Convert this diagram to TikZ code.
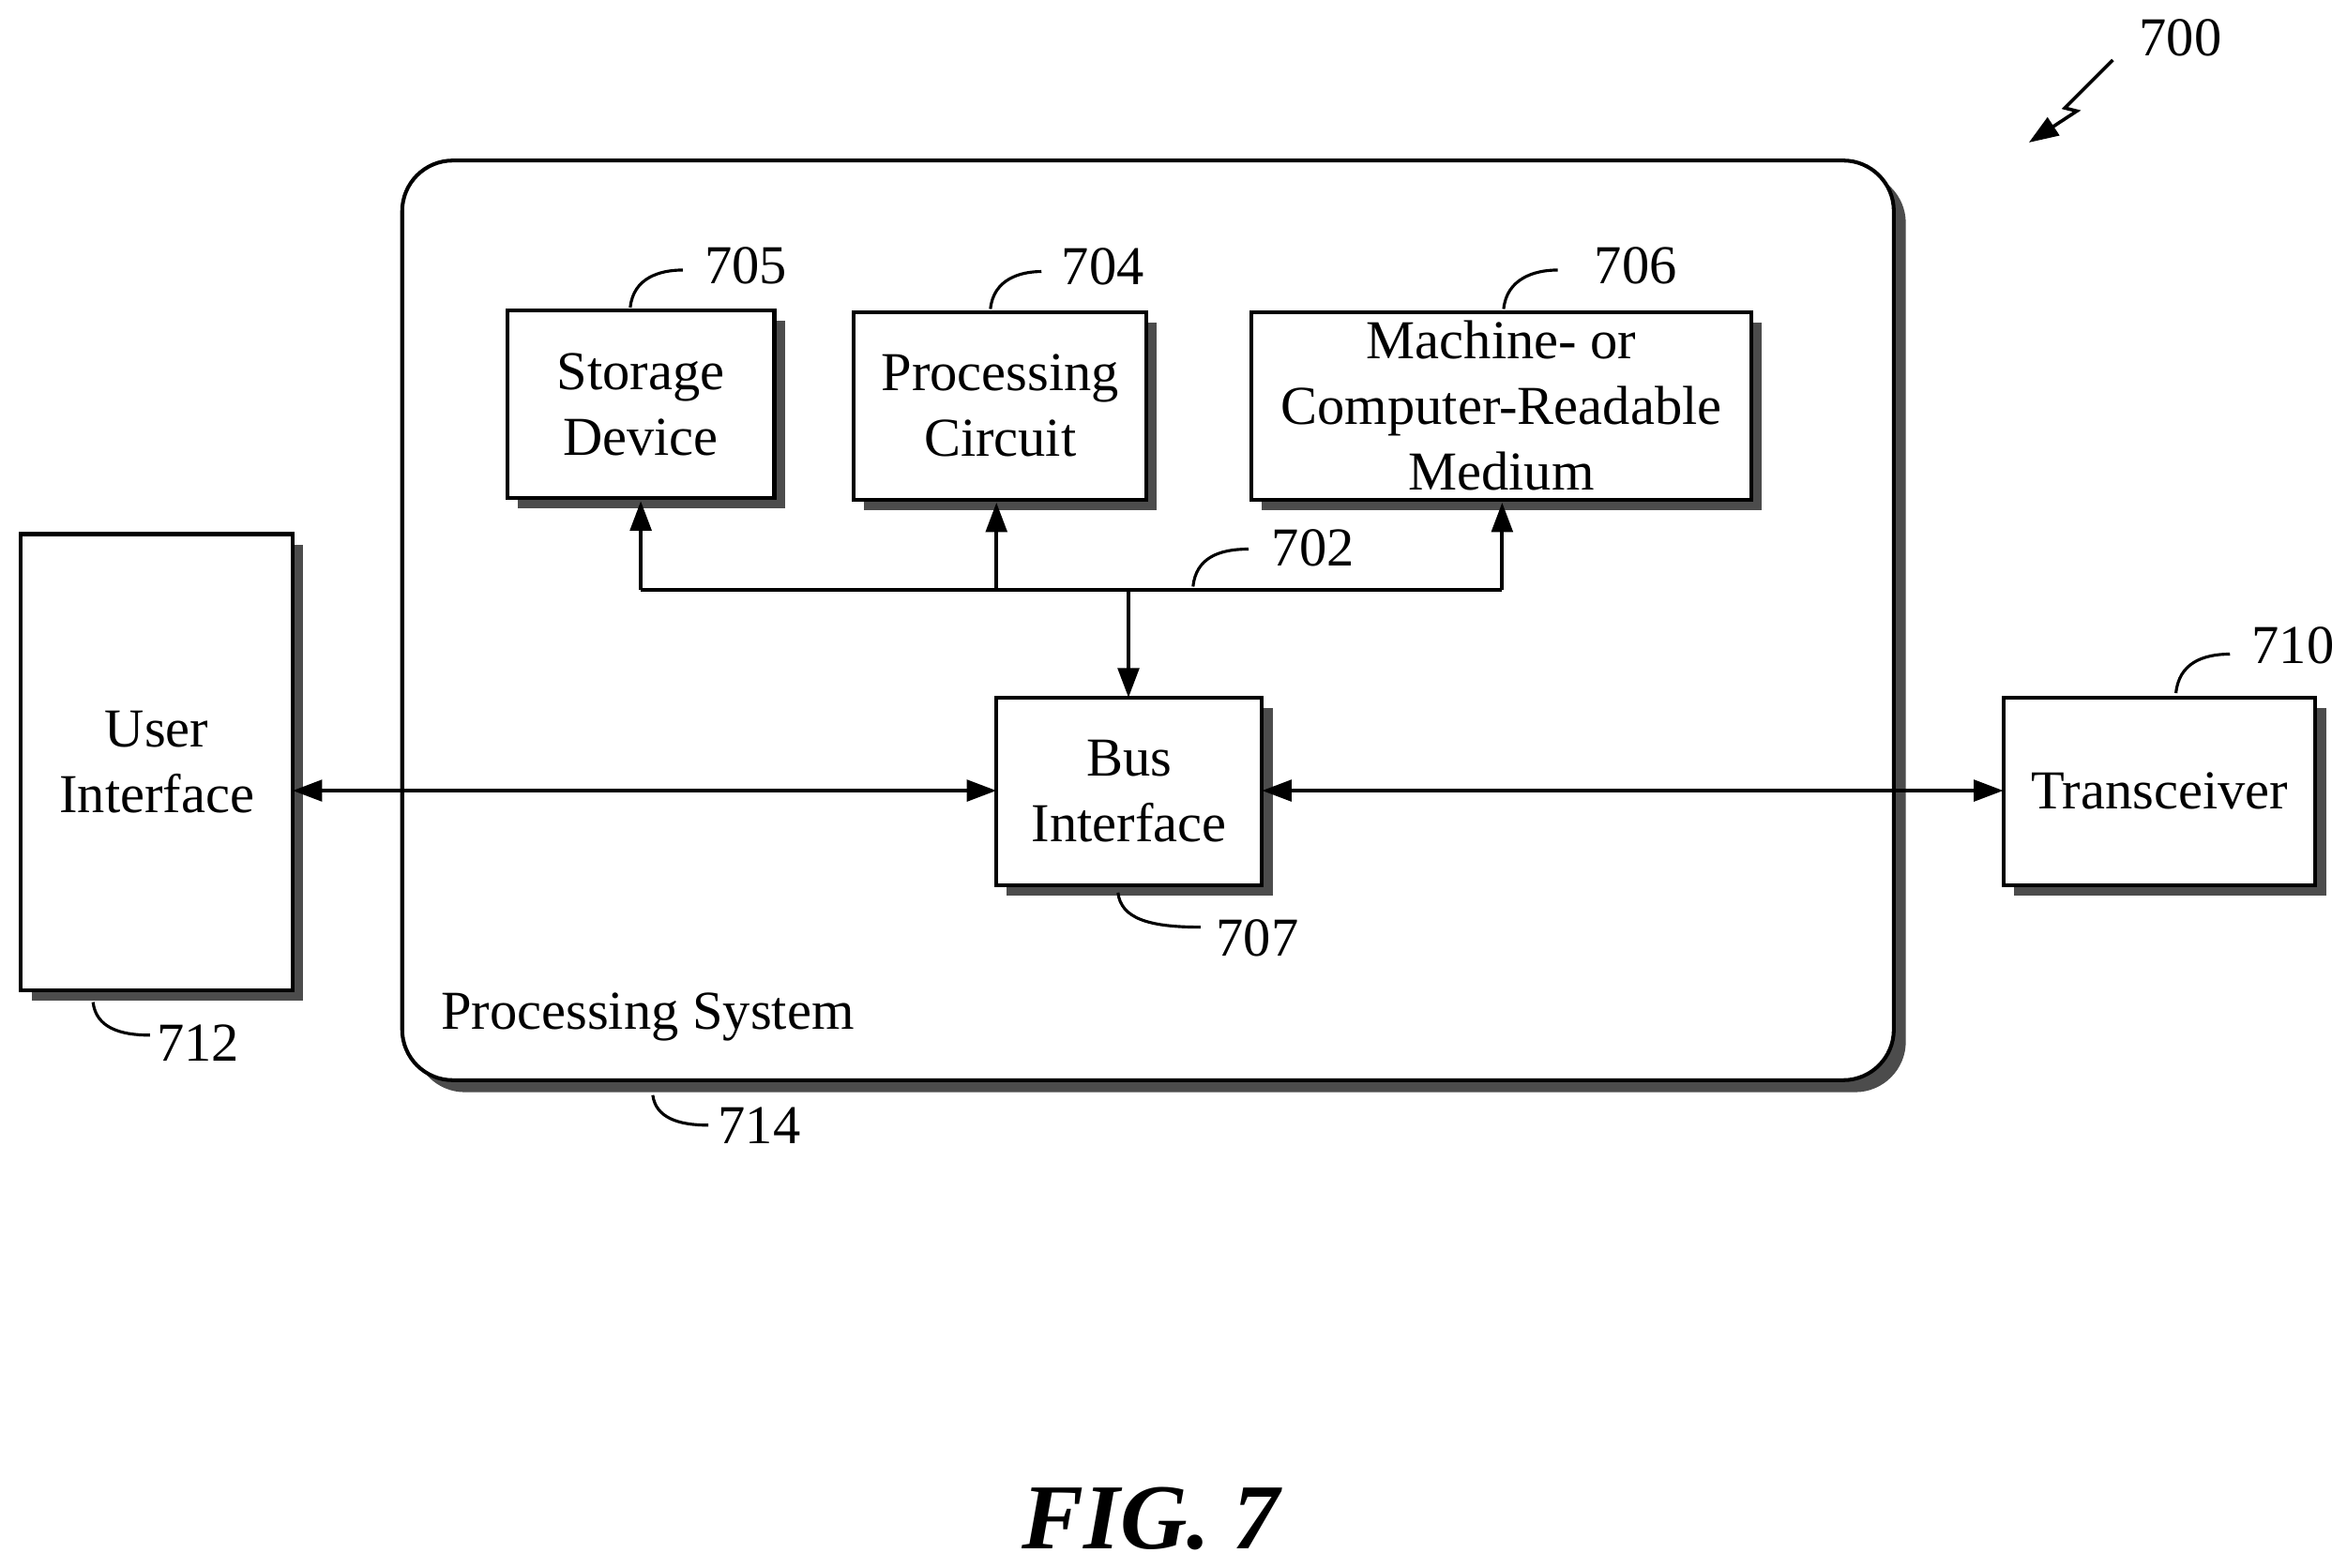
\documentclass[tikz,border=0pt]{standalone}
\usepackage{fontspec}
\setmainfont{Liberation Serif}
\usetikzlibrary{arrows.meta}
\begin{document}
\begin{tikzpicture}[x=0.0125cm,y=-0.0125cm,
  box/.style={align=center,font=\fontsize{13}{15.5}\selectfont},
  lbl/.style={font=\fontsize{13}{15.5}\selectfont},
  arr/.style={line width=0.9pt,-{Triangle[length=7pt,width=5pt]}},
  darr/.style={line width=0.9pt,{Triangle[length=7pt,width=5pt]}-{Triangle[length=7pt,width=5pt]}},
  hook/.style={line width=0.7pt}]
\useasboundingbox (0,0) rectangle (1564,1045);
% processing system
\fill[black!70,rounded corners=12] (276,115) rectangle (1270,728);
\draw[line width=0.9pt,fill=white,rounded corners=12] (268,107) rectangle (1262,720);
\node[lbl,anchor=west] (ps) at (284,678) {Processing System};
% shadowed boxes
\newcommand{\shbox}[4]{\fill[black!70] (#1+7,#2+7) rectangle (#3+7,#4+7);
  \draw[line width=0.9pt,fill=white] (#1,#2) rectangle (#3,#4);}
\shbox{338}{207}{516}{332}
\shbox{569}{208}{764}{333}
\shbox{834}{208}{1167}{333}
\shbox{664}{465}{841}{590}
\shbox{14}{356}{195}{660}
\shbox{1335}{465}{1543}{590}
\node[box] (sd) at (427,269.5) {Storage\\Device};
\node[box] (pc) at (666.5,270.5) {Processing\\Circuit};
\node[box] (mc) at (1000.5,270.5) {Machine- or\\Computer-Readable\\Medium};
\node[box] (bi) at (752.5,527.5) {Bus\\Interface};
\node[box] (ui) at (104.5,508) {User\\Interface};
\node[box] (tr) at (1439,527.5) {Transceiver};
\coordinate (bl) at (427,393); \coordinate (br) at (1001,393);
\coordinate (bm) at (752,393); \coordinate (bp) at (664,393);
\draw[line width=0.9pt] (bl) -- (br);
\draw[arr] (bl) -- (427,334);
\draw[arr] (bp) -- (664,335);
\draw[arr] (br) -- (1001,335);
\draw[arr] (bm) -- (752,465);
\draw[darr] (195,527) -- (664,527);
\draw[darr] (841,527) -- (1335,527);
% reference labels
\node[lbl] (n705) at (497,177) {705};
\draw[hook] (420,205) .. controls (422,185) and (440,180) .. (455,180);
\node[lbl] (n704) at (735,178) {704};
\draw[hook] (660,206) .. controls (662,186) and (680,181) .. (694,181);
\node[lbl] (n706) at (1090,177) {706};
\draw[hook] (1002,206) .. controls (1004,186) and (1022,180) .. (1038,180);
\node[lbl] (n702) at (875,365) {702};
\draw[hook] (795,391) .. controls (797,372) and (812,366) .. (832,366);
\node[lbl] (n710) at (1528,430) {710};
\draw[hook] (1450,462) .. controls (1452,442) and (1468,436) .. (1486,436);
\node[lbl] (n707) at (838,625) {707};
\draw[hook] (745,595) .. controls (747,612) and (765,618) .. (800,618);
\node[lbl] (n712) at (132,695) {712};
\draw[hook] (62,668) .. controls (64,685) and (80,690) .. (100,690);
\node[lbl] (n714) at (506,750) {714};
\draw[hook] (435,730) .. controls (437,745) and (452,750) .. (472,750);
\node[lbl] (n700) at (1453,25) {700};
\draw[line width=0.8pt,-{Triangle[length=7pt,width=5pt]}] (1408,40) -- (1376,72) -- (1384,74) -- (1352,95);
\node[font=\fontsize{22}{26}\selectfont\bfseries\itshape] (fig) at (767,1012) {FIG. 7};
\end{tikzpicture}
\end{document}
